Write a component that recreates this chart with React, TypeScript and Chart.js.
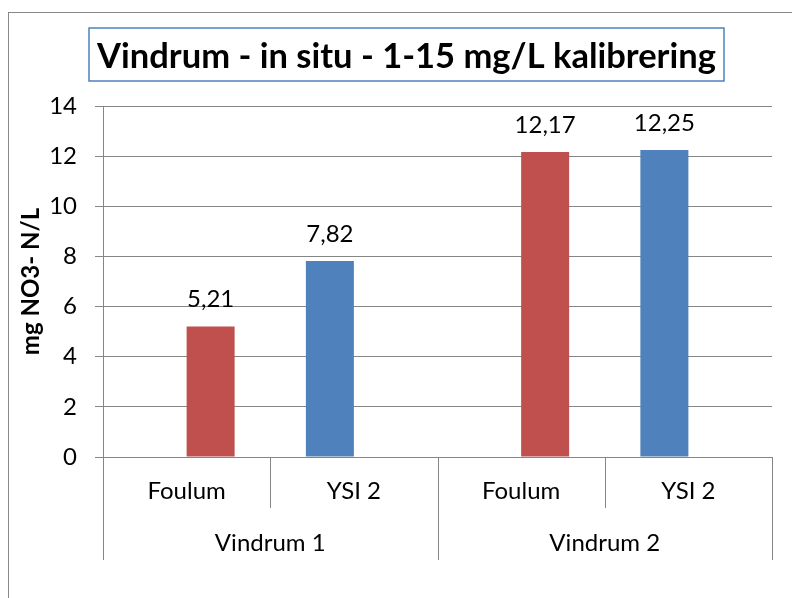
import React, { useEffect, useRef } from 'react';
import { Chart, registerables } from 'chart.js';

Chart.register(...registerables);

// ---- data ----
const categories = ['Foulum', 'YSI 2', 'Foulum', 'YSI 2'];
const groups = ['Vindrum 1', 'Vindrum 2'];
const foulumValues: (number | null)[] = [5.21, null, 12.17, null];
const ysiValues: (number | null)[] = [null, 7.82, null, 12.25];
const yMin = 0;
const yMax = 14;
const yStep = 2;
const chartTitle = 'Vindrum - in situ - 1-15 mg/L kalibrering';
const yAxisTitle = 'mg NO3- N/L';

// ---- styles ----
const FONT = 'Lato';
const GRID = '#868686';
const RED = '#C0504D';
const BLUE = '#4F81BD';

const fmt = (v: number) => v.toFixed(2).replace('.', ',');

const overlay = {
  id: 'overlay',
  afterDraw(chart: any) {
    const { ctx, chartArea, scales } = chart;
    const xs = scales.x;
    ctx.save();

    // title box + title
    const boxL = 80, boxR = 715, boxT = 15, boxB = 68;
    ctx.strokeStyle = BLUE;
    ctx.lineWidth = 1.5;
    ctx.strokeRect(boxL, boxT, boxR - boxL, boxB - boxT);
    ctx.font = `bold 100px ${FONT}`;
    const w100 = ctx.measureText(chartTitle).width;
    const ts = (100 * 619) / w100;
    ctx.font = `bold ${ts}px ${FONT}`;
    ctx.fillStyle = '#000';
    ctx.textAlign = 'center';
    ctx.textBaseline = 'alphabetic';
    ctx.fillText(chartTitle, (boxL + boxR) / 2, 55);

    // y axis title
    ctx.save();
    ctx.translate(22, (chartArea.top + chartArea.bottom) / 2);
    ctx.rotate(-Math.PI / 2);
    ctx.font = `bold 24px ${FONT}`;
    ctx.textAlign = 'center';
    ctx.textBaseline = 'middle';
    ctx.fillText(yAxisTitle, 0, 0);
    ctx.restore();

    // category dividers
    const n = categories.length;
    const cw = xs.width / n;
    const base = chartArea.bottom;
    ctx.strokeStyle = GRID;
    ctx.lineWidth = 1;
    for (let i = 0; i <= n; i++) {
      const px = Math.round(xs.left + i * cw) + 0.5;
      const len = i % 2 === 0 ? 103 : 51;
      ctx.beginPath();
      ctx.moveTo(px, base);
      ctx.lineTo(px, base + len);
      ctx.stroke();
    }

    // group labels
    ctx.font = `24px ${FONT}`;
    ctx.fillStyle = '#000';
    ctx.textAlign = 'center';
    ctx.textBaseline = 'alphabetic';
    groups.forEach((g, gi) => {
      const cx = (xs.getPixelForValue(gi * 2) + xs.getPixelForValue(gi * 2 + 1)) / 2;
      ctx.fillText(g, cx, base + 94);
    });

    // data labels
    chart.data.datasets.forEach((ds: any, di: number) => {
      const meta = chart.getDatasetMeta(di);
      meta.data.forEach((el: any, i: number) => {
        const v = ds.data[i];
        if (v === null || v === undefined) return;
        ctx.fillText(fmt(v), el.x, el.y - 19);
      });
    });

    ctx.restore();
  },
};

export default function App() {
  const ref = useRef<HTMLCanvasElement>(null);
  useEffect(() => {
    const chart = new Chart(ref.current!, {
      type: 'bar',
      data: {
        labels: categories,
        datasets: [
          { label: 'YSI 2', data: ysiValues, backgroundColor: BLUE, borderWidth: 0 },
          { label: 'Foulum', data: foulumValues, backgroundColor: RED, borderWidth: 0 },
        ],
      },
      options: {
        responsive: false,
        animation: false,
        devicePixelRatio: 1,
        layout: { padding: { top: 93, right: 20, left: 0, bottom: 0 } },
        datasets: { bar: { categoryPercentage: 0.574, barPercentage: 1 } },
        plugins: {
          legend: { display: false },
          title: { display: false },
          tooltip: { enabled: false },
        },
        scales: {
          x: {
            grid: { display: true, drawOnChartArea: false, drawTicks: false, color: GRID },
            border: { display: true, color: GRID },
            ticks: { color: '#000', font: { family: FONT, size: 24 }, padding: 20, maxRotation: 0, autoSkip: false },
            afterFit: (s: any) => { s.height = 141; },
          },
          y: {
            min: yMin,
            max: yMax,
            grid: { color: GRID, tickLength: 8, drawTicks: true },
            border: { display: true, color: GRID },
            ticks: { stepSize: yStep, color: '#000', font: { family: FONT, size: 24 }, padding: 18 },
            afterFit: (s: any) => { s.width = 94; },
          },
        },
      },
      plugins: [overlay],
    } as any);
    return () => chart.destroy();
  }, []);
  return (
    <div
      style={{
        position: 'fixed',
        left: 8,
        top: 12,
        width: 900,
        height: 700,
        border: '1px solid #888',
        background: '#fff',
      }}
    >
      <canvas ref={ref} width={783} height={585} style={{ display: 'block', width: 783, height: 585 }} />
    </div>
  );
}
